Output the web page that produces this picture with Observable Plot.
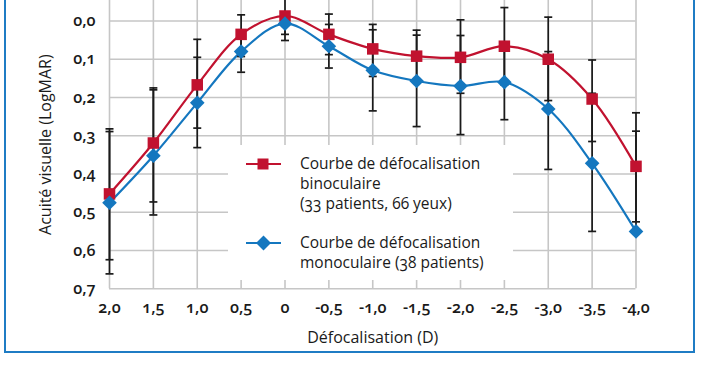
<!DOCTYPE html>
<html><head><meta charset="utf-8">
<script src="https://cdn.jsdelivr.net/npm/d3@7"></script>
<script src="https://cdn.jsdelivr.net/npm/@observablehq/plot@0.6"></script>
<style>
html,body{margin:0;padding:0;background:#fff;}
#wrap{position:relative;width:702px;height:370px;overflow:hidden;font-family:"Open Sans",sans-serif;color:#1a1a1a;font-variant-numeric:oldstyle-nums;}
#wrap svg text{font-variant-numeric:oldstyle-nums;}
#frame{position:absolute;left:4px;top:-10px;width:687px;height:359px;border:2px solid #1f7cc4;pointer-events:none;}
#chart{position:absolute;left:0;top:0;}
#legend{position:absolute;left:228px;top:145px;width:285px;height:135px;background:#fff;}
.lt{position:absolute;left:72px;font-size:15.5px;line-height:20px;white-space:nowrap;}
.lm{position:absolute;left:17px;}
</style>
</head><body>
<div id="wrap">
  <div id="chart"></div>
  <div id="legend">
    <svg class="lm" style="top:9px" width="38" height="20"><line x1="1" y1="10" x2="36" y2="10" stroke="#c1122f" stroke-width="2.2"/><rect x="12.5" y="4.5" width="11" height="11" fill="#c1122f"/></svg>
    <div class="lt" style="top:8px">Courbe de défocalisation<br>binoculaire<br>(33 patients, 66 yeux)</div>
    <svg class="lm" style="top:88px" width="38" height="20"><line x1="1" y1="10" x2="36" y2="10" stroke="#1477bf" stroke-width="2.2"/><path d="M18.5,2.5L26,10L18.5,17.5L11,10Z" fill="#1477bf"/></svg>
    <div class="lt" style="top:87px">Courbe de défocalisation<br>monoculaire (38 patients)</div>
  </div>
  <div id="frame"></div>
</div>
<script>
// Data
const defocus      = [2.0, 1.5, 1.0, 0.5, 0, -0.5, -1.0, -1.5, -2.0, -2.5, -3.0, -3.5, -4.0];
const xTickLabels  = ["2,0","1,5","1,0","0,5","0","-0,5","-1,0","-1,5","-2,0","-2,5","-3,0","-3,5","-4,0"];
const yTicks       = [0, 0.1, 0.2, 0.3, 0.4, 0.5, 0.6, 0.7];
const yTickLabels  = ["0,0","0,1","0,2","0,3","0,4","0,5","0,6","0,7"];

const binoMean = [0.452, 0.319, 0.167, 0.035, -0.013, 0.035, 0.073, 0.092, 0.095, 0.066, 0.100, 0.204, 0.380];
const binoLow  = [0.282, 0.175, 0.048, -0.016, -0.070, -0.018, 0.009, 0.024, -0.003, -0.035, -0.010, 0.102, 0.240];
const binoHigh = [0.624, 0.473, 0.280, 0.093, 0.035, 0.088, 0.145, 0.160, 0.189, 0.167, 0.208, 0.315, 0.525];

const monoMean = [0.475, 0.352, 0.214, 0.080, 0.007, 0.066, 0.129, 0.157, 0.170, 0.160, 0.230, 0.372, 0.550];
const monoLow  = [0.289, 0.180, 0.095, 0.026, -0.015, 0.009, 0.023, 0.037, 0.038, 0.060, 0.080, 0.189, 0.288];
const monoHigh = [0.661, 0.507, 0.331, 0.134, 0.051, 0.123, 0.235, 0.276, 0.297, 0.258, 0.388, 0.550, 0.550];

const red = "#c1122f", blue = "#1477bf", gridColor = "#c6c6c6", barColor = "#1a1a1a";

const bino = defocus.map((x, i) => ({x, y: binoMean[i], lo: binoLow[i], hi: binoHigh[i]}));
const mono = defocus.map((x, i) => ({x, y: monoMean[i], lo: monoLow[i], hi: monoHigh[i]}));
const bars = [...bino, ...mono];
const caps = bars.flatMap(d => [{x: d.x, y: d.lo}, {x: d.x, y: d.hi}]);

const capSymbol = {draw(ctx) { ctx.moveTo(-4, 0); ctx.lineTo(4, 0); }};

const chart = Plot.plot({
  width: 702, height: 370,
  marginLeft: 109, marginRight: 66.5, marginTop: 0, marginBottom: 81.7,
  style: {fontFamily: "Open Sans", fontSize: "16px", fontWeight: 600, color: "#1a1a1a", background: "transparent", overflow: "hidden"},
  x: {domain: [2, -4]},
  y: {domain: [-0.0535, 0.7], reverse: true},
  marks: [
    Plot.ruleX(defocus, {stroke: gridColor, strokeWidth: 1.6}),
    Plot.ruleY(yTicks, {stroke: gridColor, strokeWidth: 1.6}),
    Plot.axisX({ticks: defocus, tickFormat: d => xTickLabels[defocus.indexOf(d)], tickSize: 0, tickPadding: 13, label: null, fontSize: 16}),
    Plot.axisY({ticks: yTicks, tickFormat: d => yTickLabels[yTicks.indexOf(d)], tickSize: 0, tickPadding: 14, label: null, fontSize: 16}),
    Plot.text(["Acuité visuelle (LogMAR)"], {frameAnchor: "left", textAnchor: "middle", dx: -64, rotate: -90, fontSize: 16, fontWeight: 400}),
    Plot.text(["Défocalisation (D)"], {frameAnchor: "bottom", textAnchor: "middle", dy: 54, fontSize: 16, fontWeight: 400}),
    Plot.line(bino, {x: "x", y: "y", curve: "catmull-rom", stroke: red, strokeWidth: 2.2}),
    Plot.line(mono, {x: "x", y: "y", curve: "catmull-rom", stroke: blue, strokeWidth: 2.2}),
    Plot.ruleX(bars, {x: "x", y1: "lo", y2: "hi", stroke: barColor, strokeWidth: 1.7}),
    Plot.dot(caps, {x: "x", y: "y", symbol: capSymbol, r: 4, stroke: barColor, strokeWidth: 1.7, fill: "none"}),
    Plot.dot(bino, {x: "x", y: "y", symbol: "square", r: 6.5, fill: red}),
    Plot.dot(mono, {x: "x", y: "y", symbol: "diamond2", r: 6.6, fill: blue})
  ]
});
document.getElementById("chart").appendChild(chart);
</script>
</body></html>
